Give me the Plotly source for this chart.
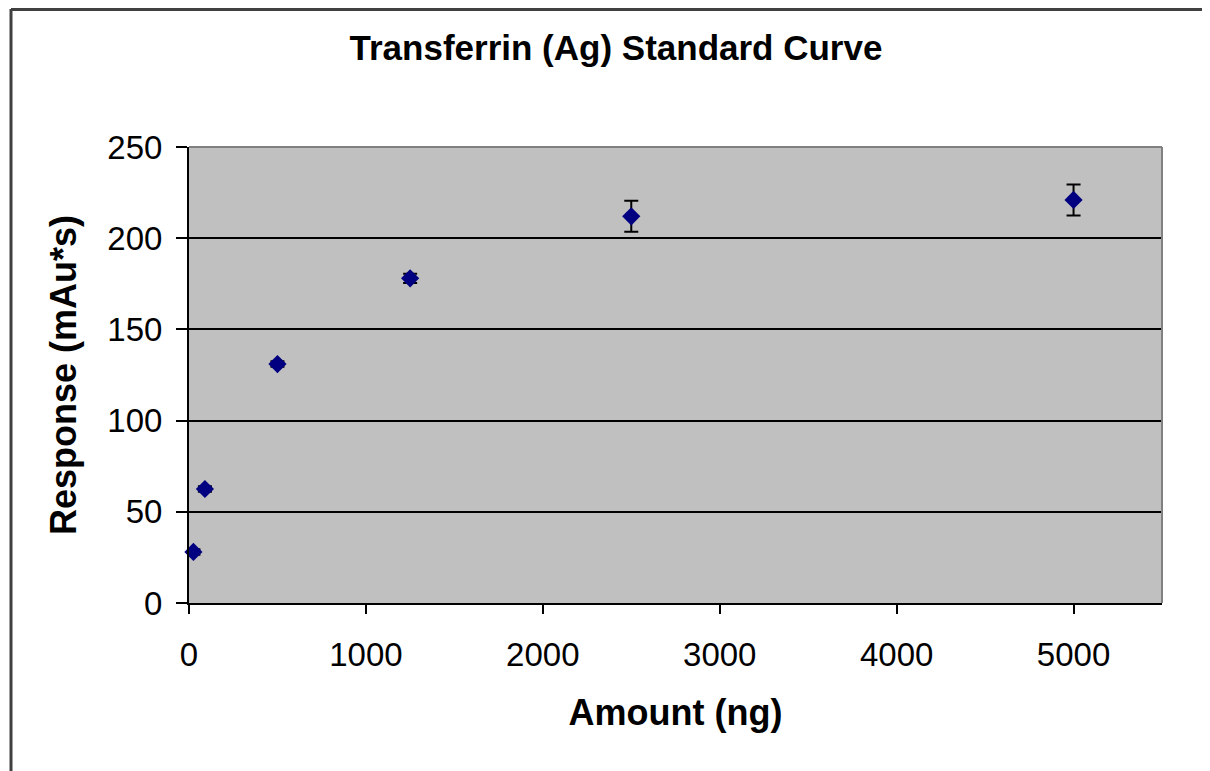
import plotly.graph_objects as go

amount_ng = [25, 90, 500, 1250, 2500, 5000]
response = [28, 62.5, 131, 178, 212, 221]
response_err = [1.5, 1.5, 1.5, 2.5, 8.5, 8.5]

title_text = "Transferrin (Ag) Standard Curve"
x_title = "Amount (ng)"
y_title = "Response (mAu*s)"

FONT = "Liberation Sans, Arial, sans-serif"

fig = go.Figure()
fig.add_trace(go.Scatter(
    x=amount_ng, y=response, mode="markers",
    marker=dict(symbol="diamond", size=14, color="#000080",
                line=dict(width=0)),
    error_y=dict(type="data", array=response_err, visible=True,
                 color="black", thickness=2, width=7),
    showlegend=False, cliponaxis=False,
))

OFF = 8  # page body offset
W, H = 1210, 771
SL, SR, ST, SB = 189, 1162, 147, 603
L = SL - OFF
T = ST - OFF
R = W - (SR - OFF)
B = H - (SB - OFF)
pw, ph = W - L - R, H - T - B

def px(xs):
    return (xs - OFF - L) / pw

def py(ys):
    return (H - B - (ys - OFF)) / ph

fig.update_layout(
    width=W, height=H,
    margin=dict(l=L, r=R, t=T, b=B),
    paper_bgcolor="white",
    plot_bgcolor="#C0C0C0",
    font=dict(family=FONT, color="black"),
    title=dict(text=title_text, x=px(616), xref="paper", xanchor="center",
               y=1 - (48 - OFF) / H, yanchor="middle",
               font=dict(family=FONT, size=35, color="black", weight="bold")),
    xaxis=dict(range=[0, 5500], dtick=1000, tick0=0, showgrid=False,
               showline=True, linecolor="black", linewidth=2,
               ticks="outside", ticklen=9, tickwidth=2, tickcolor="black",
               ticklabelstandoff=12,
               tickfont=dict(size=33, family=FONT), zeroline=False,
               title=dict(text=x_title, standoff=28,
                          font=dict(size=36, family=FONT, weight="bold"))),
    yaxis=dict(range=[0, 250], dtick=50, tick0=0, showgrid=True,
               gridcolor="black", gridwidth=1.5,
               showline=True, linecolor="black", linewidth=2,
               ticks="outside", ticklen=11, tickwidth=2, tickcolor="black",
               ticklabelstandoff=7,
               tickfont=dict(size=33, family=FONT), zeroline=False,
               title=dict(text=y_title, standoff=20,
                          font=dict(size=36, family=FONT, weight="bold"))),
    shapes=[
        dict(type="line", xref="paper", yref="paper", x0=0, x1=1, y0=1, y1=1,
             line=dict(color="#808080", width=2), layer="above"),
        dict(type="line", xref="paper", yref="paper", x0=1, x1=1, y0=0, y1=1,
             line=dict(color="#808080", width=2), layer="above"),
        dict(type="line", xref="paper", yref="paper",
             x0=px(11), x1=px(11), y0=py(9), y1=py(780),
             line=dict(color="#404040", width=3)),
        dict(type="line", xref="paper", yref="paper",
             x0=px(11), x1=px(1220), y0=py(9.5), y1=py(9.5),
             line=dict(color="#404040", width=3)),
    ],
)

fig.write_html("out.html")
